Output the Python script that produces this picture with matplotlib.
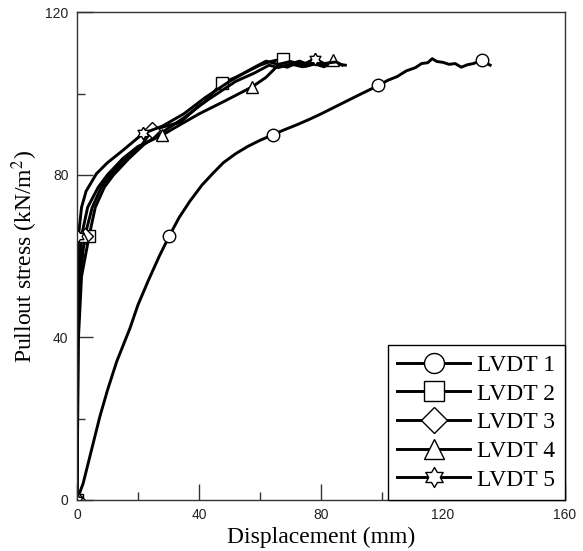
import numpy as np
import matplotlib
matplotlib.use('Agg')
import matplotlib.pyplot as plt

plt.rcParams['font.family'] = 'Liberation Serif'
plt.rcParams['mathtext.fontset'] = 'stix'

# LVDT 1
x1 = [0, 2, 5, 7.5, 10, 13, 17.4, 20, 23.4, 27, 30.3, 33.5, 37, 41, 44.6, 48, 52, 56, 60, 64.3,
      68, 72, 76, 80, 84, 88, 92, 95, 98.8, 102, 105, 108, 111, 113, 115, 116.5, 118, 120,
      122, 124, 126, 128, 130, 132.7, 134, 135.5]
y1 = [0, 4, 13, 20.5, 27, 34, 42.3, 48, 54, 60, 65, 69.5, 73.5, 77.5, 80.4, 83, 85.2, 87, 88.5, 89.9,
      91.1, 92.3, 93.6, 95, 96.5, 98, 99.5, 100.6, 102, 103.3, 104.2, 105.6, 106.4, 107.4, 107.6, 108.6, 107.9, 107.7,
      107.2, 107.4, 106.5, 107.1, 107.4, 108.2, 107.6, 107]
m1 = [0, 10, 19, 28, 43]

# LVDT 2
x2 = [0, 0.5, 1.5, 4, 6, 9, 12, 17, 22, 27, 35, 42, 47.4, 52, 56, 60, 63, 67.6, 70, 73, 76, 80, 83, 85]
y2 = [0, 40, 55, 65, 72, 77, 80, 84, 87.5, 90, 94, 98, 102.5, 104, 105.5, 107, 107.8, 108.6, 107.3, 108, 107.1,
      107.6, 106.9, 107.5]
m2 = [0, 3, 12, 17]

# LVDT 3
x3 = [0, 0.3, 1, 2.6, 5, 8, 11, 16, 21, 24.5, 34, 40, 46, 52, 58, 63, 66, 70, 74, 78, 81, 84]
y3 = [0, 40, 55, 65, 72, 77, 80, 84, 87, 91, 93, 97, 100, 103, 105, 107, 106.4, 107.3, 106.6, 107.5, 106.8, 107]
m3 = [0, 3, 9]

# LVDT 4
x4 = [0, 0.2, 0.8, 1.5, 3.5, 7, 10, 15, 20, 27.8, 33, 40, 48, 57.3, 62, 66, 69, 72, 75, 78, 81, 84, 86, 88]
y4 = [0, 40, 55, 65, 72, 77, 80, 84, 87, 89.7, 92, 95, 98, 101.6, 104, 107, 106.5, 107.5, 106.7, 107.3, 106.6,
      108.2, 107.2, 107]
m4 = [0, 3, 9, 13, 21]

# LVDT 5
x5 = [0, 0.2, 0.5, 0.5, 1.5, 3, 6.4, 10, 15, 21.7, 28, 35, 42, 50, 57, 62, 66, 70, 74, 78, 81, 85, 87]
y5 = [0, 40, 55, 65, 72, 76, 80.3, 83, 86, 90.2, 92, 95, 99, 103, 106, 108, 107.2, 107.9, 107.1, 108.6, 107.4,
      107.8, 107]
m5 = [0, 3, 9, 19]

labels = ['LVDT 1', 'LVDT 2', 'LVDT 3', 'LVDT 4', 'LVDT 5']

# six-pointed star outline
ang = np.linspace(np.pi / 2, np.pi / 2 + 2 * np.pi, 13)
rad = np.where(np.arange(13) % 2 == 0, 1.0, 0.58)
hexagram = list(zip(rad * np.cos(ang), rad * np.sin(ang)))

series = [(x1, y1, m1, 'o'), (x2, y2, m2, 's'), (x3, y3, m3, 'D'),
          (x4, y4, m4, '^'), (x5, y5, m5, hexagram)]

fig = plt.figure(figsize=(5.83, 5.51), dpi=100)
ax = fig.add_axes([0.132, 0.0926, 0.837, 0.885])

for (xs, ys, me, mk), lab in zip(series, labels):
    ms = 8 if mk == 'D' else 9
    ax.plot(xs, ys, color='black', lw=2.1, marker=mk, markevery=me, markersize=ms,
            markerfacecolor='white', markeredgecolor='black', markeredgewidth=1.0, label=lab)

ax.set_xlim(0, 160)
ax.set_ylim(0, 120)
ax.set_xticks([0, 40, 80, 120, 160])
ax.set_xticks([20, 60, 100, 140], minor=True)
ax.set_yticks([0, 40, 80, 120])
ax.set_yticks([20, 60, 100], minor=True)
ax.tick_params(which='both', direction='in', top=False, right=False, width=1.0, color='#333333')
ax.tick_params(which='major', length=11.5, pad=6, labelcolor='#222222')
ax.tick_params(which='minor', length=5.8)
for lbl in ax.get_xticklabels() + ax.get_yticklabels():
    lbl.set_fontfamily('Liberation Sans')
    lbl.set_fontsize(10)
for sp in ax.spines.values():
    sp.set_linewidth(1.0)
    sp.set_color('#333333')

ax.set_xlabel('Displacement (mm)', fontsize=17, labelpad=3)
ax.set_ylabel('Pullout stress (kN/m$^2$)', fontsize=17, labelpad=4)

leg = ax.legend(loc='lower right', borderaxespad=0, fontsize=17, markerscale=1.6,
                handlelength=3.1, handletextpad=0.3, labelspacing=0.3,
                fancybox=False, framealpha=1, edgecolor='black', borderpad=0.4)
leg.get_frame().set_linewidth(1.0)

fig.savefig('out.png', dpi=100)
